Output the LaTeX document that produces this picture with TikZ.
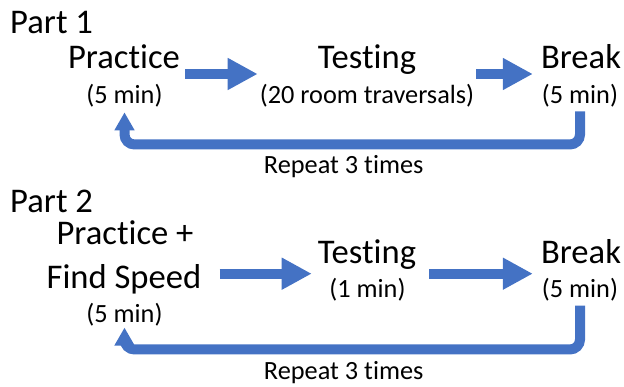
\documentclass[tikz,border=0pt]{standalone}
\usepackage{fontspec}
\setmainfont{Carlito}[Ligatures={NoCommon}]
\usepackage{xcolor}
\usepackage{tikz}
\usetikzlibrary{arrows.meta, positioning, calc}

\definecolor{flowblue}{HTML}{4472C4}

\begin{document}
\begin{tikzpicture}[x=1pt, y=-1pt,
  big/.style={inner sep=0, anchor=base, font=\fontsize{34.6}{40}\selectfont},
  small/.style={inner sep=0, anchor=base, font=\fontsize{26.3}{30}\selectfont},
  flow/.style={line width=10pt, flowblue, -{Triangle[width=30pt, length=30pt]}},
  back/.style={line width=10pt, flowblue, rounded corners=10pt,
    -{Triangle[width=19pt, length=18pt]}}]
  \useasboundingbox (0,0) rectangle (624,387);

  % Part 1
  \node[big, anchor=base west] (part1) at (10,34) {Part 1};
  \node[big] (prac1) at (124,69) {Practice};
  \node[small] (prac1t) at (124.5,103.5) {(5 min)};
  \node[big] (test1) at (367,69) {Testing};
  \node[small] (test1t) at (367,103.5) {(20 room traversals)};
  \node[big] (brk1) at (581,69) {Break};
  \node[small] (brk1t) at (580,103.5) {(5 min)};
  \node[small] (rep1) at (343.7,173.3) {Repeat 3 times};

  \draw[flow, shorten <=5pt, shorten >=2pt] (prac1.east |- 0,74) -- (test1t.west |- 0,74);
  \draw[flow, shorten <=2pt, shorten >=8pt] (test1t.east |- 0,74) -- (brk1.west |- 0,74);
  \draw[back, shorten <=4pt, shorten >=5pt]
    (brk1t.south) -- (brk1t.south |- 0,144.5) -| (prac1t.south);

  % Part 2
  \node[big, anchor=base west] (part2) at (10,212.3) {Part 2};
  \node[big] (prac2) at (125,245) {Practice +};
  \node[big] (speed2) at (124,288.3) {Find Speed};
  \node[small] (prac2t) at (124.5,322.7) {(5 min)};
  \node[big] (test2) at (367,263.3) {Testing};
  \node[small] (test2t) at (367.5,297.7) {(1 min)};
  \node[big] (brk2) at (581,263.3) {Break};
  \node[small] (brk2t) at (580,297.7) {(5 min)};
  \node[small] (rep2) at (343.7,380) {Repeat 3 times};

  \draw[flow, shorten <=18pt, shorten >=6pt] (speed2.east |- 0,273.7) -- (test2.west |- 0,273.7);
  \draw[flow, shorten <=13pt, shorten >=8pt] (test2.east |- 0,273.7) -- (brk2.west |- 0,273.7);
  \draw[back, shorten <=4pt, shorten >=1pt]
    (brk2t.south) -- (brk2t.south |- 0,349.5) -| (prac2t.south);
\end{tikzpicture}
\end{document}
